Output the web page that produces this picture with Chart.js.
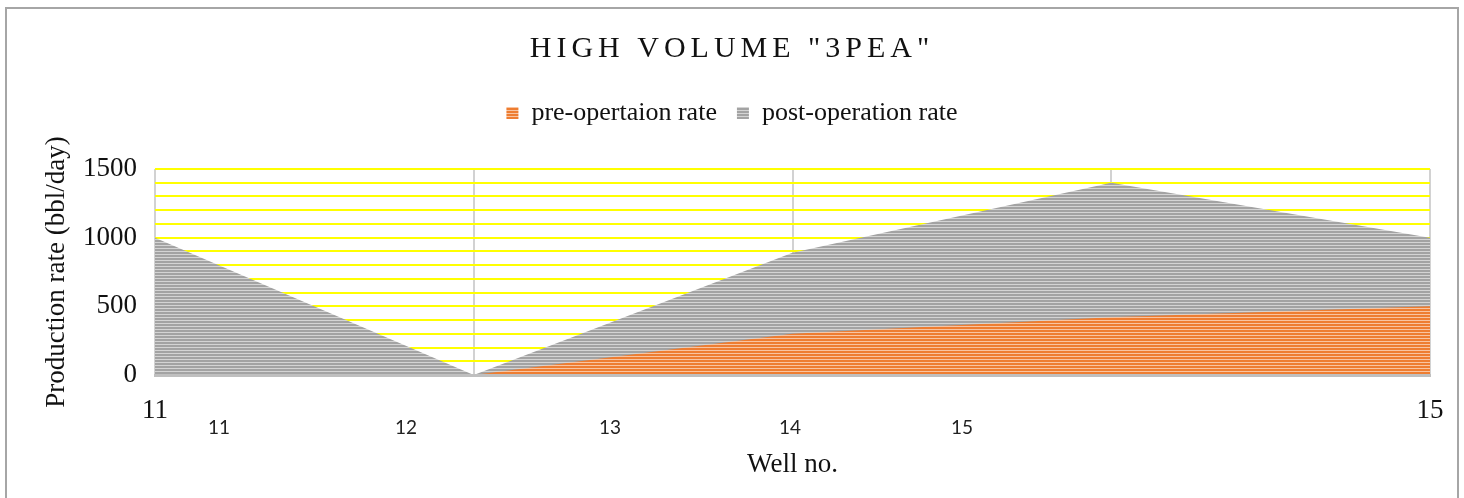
<!DOCTYPE html>
<html><head><meta charset="utf-8">
<script src="https://cdn.jsdelivr.net/npm/chart.js@4.4.1/dist/chart.umd.min.js"></script>
<style>
html,body{margin:0;padding:0;background:#fff;}
#wrap{position:relative;width:1464px;height:498px;overflow:hidden;}
#frame{position:absolute;left:5px;top:7px;width:1454px;height:520px;border:2px solid #a6a6a6;box-sizing:border-box;}
canvas{position:absolute;left:0;top:0;}
</style></head><body>
<div id="wrap"><div id="frame"></div><canvas id="c" width="1464" height="498"></canvas></div>
<script>
// ---- data ----
const wells = [11, 12, 13, 14, 15];
const preRate = [0, 0, 300, 420, 500];
const postRate = [1000, 0, 890, 1400, 1000];
const xEndLabels = [11, 15];
const yLabelValues = [0, 500, 1000, 1500];
const wellLabels = ['11', '12', '13', '14', '15'];
const seriesNames = ['pre-opertaion rate', 'post-operation rate'];

// ---- styles ----
function stripes(dark, light) {
  const pc = document.createElement('canvas');
  pc.width = 4; pc.height = 3;
  const g = pc.getContext('2d');
  g.fillStyle = dark; g.fillRect(0, 0, 4, 3);
  g.fillStyle = light; g.fillRect(0, 2, 4, 1);
  return document.createElement('canvas').getContext('2d').createPattern(pc, 'repeat');
}
const orangeFill = stripes('#ee7d31', '#f9c4a0');
const grayFill = stripes('#a3a3a3', '#d4d4d4');
const SERIF = "'Liberation Serif', 'Times New Roman', serif";

const secondRowPlugin = {
  id: 'secondRow',
  afterDraw(chart, args, opts) {
    const {ctx, chartArea} = chart;
    const w = chartArea.right - chartArea.left;
    ctx.save();
    ctx.font = opts.font;
    ctx.fillStyle = opts.color;
    ctx.textAlign = 'center';
    ctx.textBaseline = 'middle';
    wellLabels.forEach((t, i) => {
      ctx.fillText(t, chartArea.left + opts.fractions[i] * w, chartArea.bottom + opts.offset);
    });
    ctx.restore();
  }
};

const layoutTweaks = {
  id: 'layoutTweaks',
  beforeLayout(chart) {
    const lg = chart.legend;
    if (lg && !lg._patched) {
      const f = lg.fit.bind(lg);
      lg.fit = function () { f(); this.height = 89; };
      lg._patched = true;
    }
  },
  beforeDraw(chart) {
    const tb = chart.titleBlock;
    if (tb && !tb._patched) {
      const d = tb.draw.bind(tb);
      tb.draw = function (...a) {
        const ctx = this.ctx;
        ctx.save();
        ctx.letterSpacing = '5px';
        d(...a);
        ctx.restore();
      };
      tb._patched = true;
    }
  }
};

new Chart(document.getElementById('c'), {
  type: 'line',
  data: {
    datasets: [
      {
        label: seriesNames[0],
        data: wells.map((w, i) => ({x: w, y: preRate[i]})),
        backgroundColor: orangeFill,
        borderColor: 'transparent',
        borderWidth: 0,
        pointRadius: 0,
        fill: 'origin',
        tension: 0
      },
      {
        label: seriesNames[1],
        data: wells.map((w, i) => ({x: w, y: postRate[i]})),
        backgroundColor: grayFill,
        borderColor: 'transparent',
        borderWidth: 0,
        pointRadius: 0,
        fill: 'origin',
        tension: 0
      }
    ]
  },
  options: {
    responsive: false,
    animation: false,
    devicePixelRatio: 1,
    layout: {padding: {left: 34, right: 34, top: 0, bottom: 0}},
    plugins: {
      tooltip: {enabled: false},
      title: {
        display: true,
        text: 'HIGH VOLUME "3PEA"',
        color: '#111',
        font: {family: SERIF, size: 30, weight: 'normal'},
        padding: {top: 31, bottom: 13}
      },
      legend: {
        display: true,
        position: 'top',
        labels: {
          color: '#111',
          font: {family: SERIF, size: 26},
          boxWidth: 12,
          boxHeight: 12,
          padding: 20
        }
      },
      secondRow: {
        font: "19px Lato, 'Open Sans', sans-serif",
        color: '#222',
        fractions: [0.0502, 0.1969, 0.3569, 0.498, 0.633],
        offset: 53
      }
    },
    scales: {
      x: {
        type: 'linear',
        min: wells[0],
        max: wells[wells.length - 1],
        afterFit(s) { s.height = 123; },
        ticks: {
          stepSize: 1,
          autoSkip: false,
          maxRotation: 0,
          padding: 20,
          color: '#111',
          font: {family: SERIF, size: 27},
          callback: (v) => xEndLabels.includes(v) ? String(v) : ''
        },
        grid: {color: '#d2d2d2', lineWidth: 2, drawTicks: false},
        border: {display: true, color: '#bfbfbf', width: 3, z: 1},
        title: {
          display: true,
          text: 'Well no.',
          color: '#111',
          font: {family: SERIF, size: 27},
          padding: {top: 0, bottom: 17}
        }
      },
      y: {
        min: 0,
        max: 1500,
        afterFit(s) { s.width = 121; },
        ticks: {
          stepSize: 100,
          autoSkip: false,
          padding: 18,
          color: '#111',
          font: {family: SERIF, size: 27},
          callback: (v) => yLabelValues.includes(v) ? String(v) : ''
        },
        grid: {
          color: (c) => c.tick && c.tick.value === 0 ? 'rgba(0,0,0,0)' : '#ffff00',
          lineWidth: 2,
          drawTicks: false
        },
        border: {display: false},
        title: {
          display: true,
          text: 'Production rate (bbl/day)',
          color: '#111',
          font: {family: SERIF, size: 27},
          padding: {top: 7, bottom: 0}
        }
      }
    }
  },
  plugins: [secondRowPlugin, layoutTweaks]
});
</script>
</body></html>
